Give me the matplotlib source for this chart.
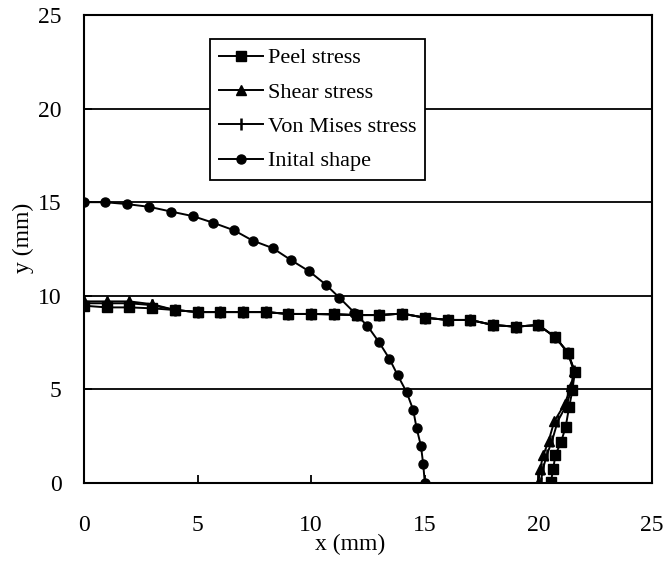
import matplotlib
matplotlib.use('Agg')
import matplotlib.pyplot as plt

plt.rcParams['font.family'] = ['Liberation Serif', 'DejaVu Serif']

# Peel stress (squares)
peel_x = [0, 1, 2, 3, 4, 5, 6, 7, 8, 9, 10, 11, 12, 13, 14, 15, 16, 17, 18, 19, 20,
          20.75, 21.3, 21.6, 21.5, 21.35, 21.2, 21.0, 20.75, 20.65, 20.55]
peel_y = [9.47, 9.38, 9.38, 9.33, 9.24, 9.13, 9.13, 9.13, 9.13, 9.03, 9.03, 9.01, 8.97, 8.97,
          9.05, 8.83, 8.71, 8.71, 8.44, 8.35, 8.44, 7.78, 6.96, 5.95, 4.97, 4.05, 3.0, 2.2,
          1.5, 0.75, 0.05]

# Shear stress (triangles)
shear_x = [0, 1, 2, 3, 4, 5, 6, 7, 8, 9, 10, 11, 12, 13, 14, 15, 16, 17, 18, 19, 20,
           20.75, 21.3, 21.55, 21.45, 21.15, 20.7, 20.45, 20.22, 20.07, 20.0]
shear_y = [9.7, 9.7, 9.7, 9.55, 9.24, 9.13, 9.13, 9.13, 9.13, 9.03, 9.03, 9.01, 8.97, 8.97,
           9.05, 8.83, 8.71, 8.71, 8.44, 8.35, 8.44, 7.78, 6.96, 6.0, 5.2, 4.2, 3.3, 2.25,
           1.5, 0.75, 0.0]

# Von Mises stress (vertical ticks)
mises_x = [0, 1, 2, 3, 4, 5, 6, 7, 8, 9, 10, 11, 12, 13, 14, 15, 16, 17, 18, 19, 20,
           20.75, 21.3, 21.58, 21.5, 21.25, 20.85, 20.6, 20.37, 20.2, 20.1]
mises_y = [9.6, 9.6, 9.6, 9.5, 9.24, 9.13, 9.13, 9.13, 9.13, 9.03, 9.03, 9.01, 8.97, 8.97,
           9.05, 8.83, 8.71, 8.71, 8.44, 8.35, 8.44, 7.78, 6.96, 6.0, 5.2, 4.2, 3.3, 2.25,
           1.5, 0.75, 0.0]

# Initial shape (circles)
init_x = [0, 0.92, 1.88, 2.88, 3.83, 4.81, 5.69, 6.6, 7.42, 8.3, 9.12, 9.92, 10.64, 11.24,
          11.9, 12.47, 12.98, 13.44, 13.8, 14.2, 14.49, 14.64, 14.83, 14.93, 15.0]
init_y = [15.0, 15.0, 14.9, 14.75, 14.5, 14.25, 13.9, 13.5, 12.95, 12.55, 11.9, 11.3, 10.6,
          9.9, 9.1, 8.4, 7.53, 6.64, 5.77, 4.85, 3.9, 2.92, 1.98, 1.0, 0.0]

fig = plt.figure(figsize=(6.71, 5.62), dpi=100)
ax = fig.add_axes([0.1252, 0.1406, 0.8465, 0.8327])

ax.plot(peel_x, peel_y, color='black', lw=1.4, marker='s', ms=7, label='Peel stress')
ax.plot(shear_x, shear_y, color='black', lw=1.4, marker='^', ms=7, label='Shear stress')
ax.plot(mises_x, mises_y, color='black', lw=1.4, marker='|', ms=9, mew=1.8,
        label='Von Mises stress')
ax.plot(init_x, init_y, color='black', lw=1.4, marker='o', ms=6.5, label='Inital shape')

ax.set_xlim(0, 25)
ax.set_ylim(0, 25)
ax.set_xticks([0, 5, 10, 15, 20, 25])
ax.set_yticks([0, 5, 10, 15, 20, 25])

for y in [5, 10, 15, 20]:
    ax.axhline(y, color='black', lw=1.3, zorder=0)

for s in ax.spines.values():
    s.set_linewidth(1.5)

ax.tick_params(direction='in', length=6, width=1.3, labelsize=17, top=False, right=False)
ax.tick_params(axis='x', pad=23)
ax.tick_params(axis='y', pad=16)

ax.set_xlabel('x (mm)', fontsize=17)
ax.set_ylabel('y (mm)', fontsize=17)
ax.xaxis.set_label_coords(0.468, -0.132)
ax.yaxis.set_label_coords(-0.107, 0.523)
ax.xaxis.label.set_va('center')
ax.yaxis.label.set_va('center')

leg = ax.legend(loc='upper left', bbox_to_anchor=(0.222, 0.949), fontsize=16,
                fancybox=False, framealpha=1, edgecolor='black', handlelength=2.0,
                handletextpad=0.2, labelspacing=0.62, borderpad=0.4, borderaxespad=0)
leg.get_frame().set_linewidth(1.3)

fig.savefig('out.png', dpi=100)
